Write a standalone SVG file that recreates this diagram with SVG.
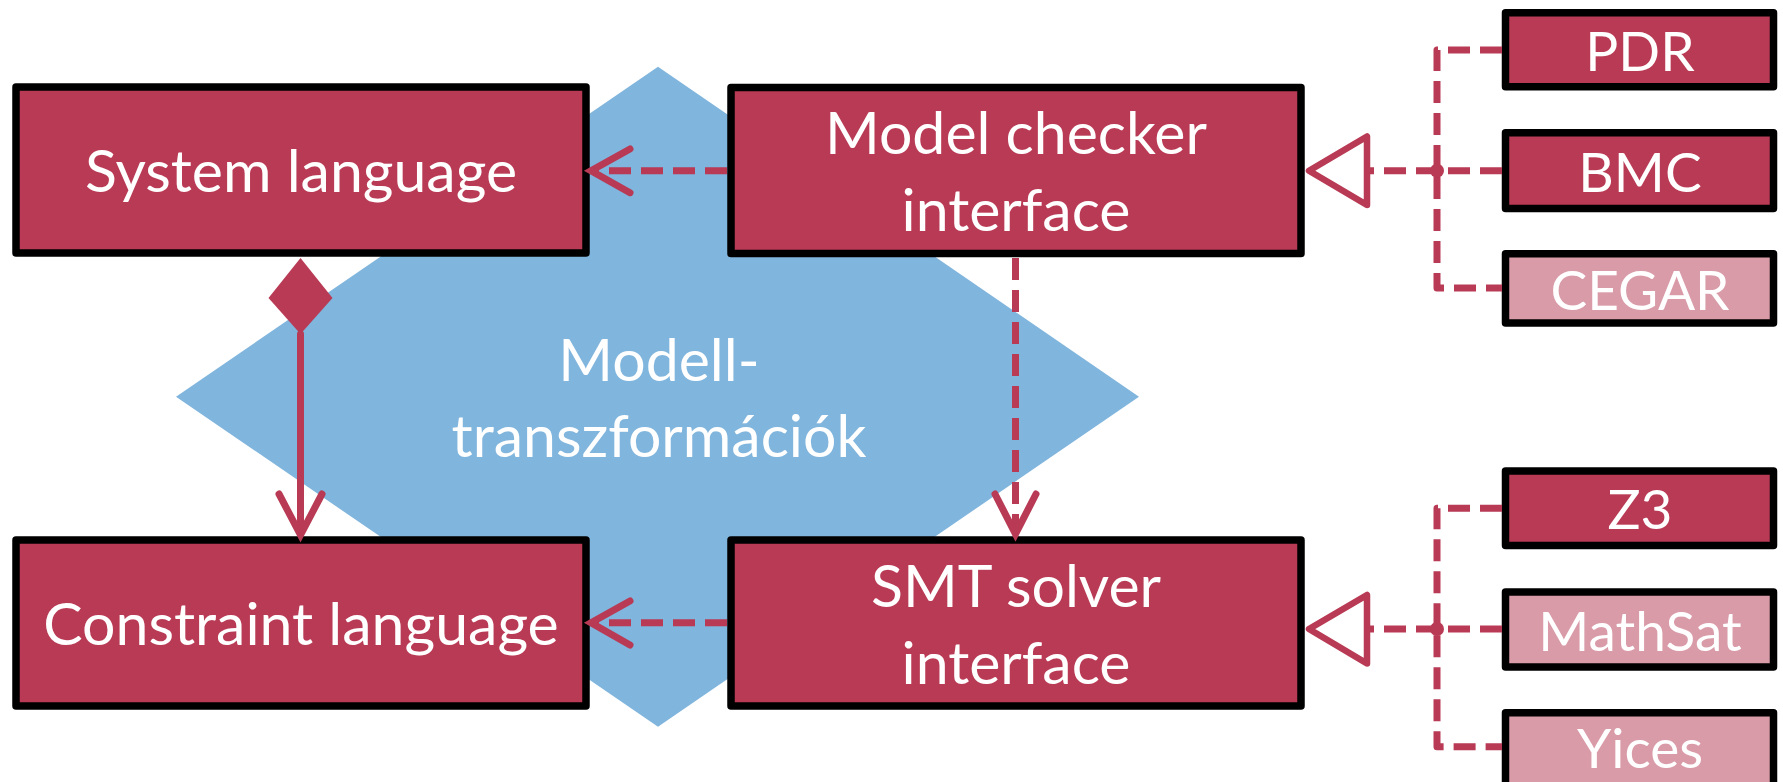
<svg xmlns="http://www.w3.org/2000/svg" width="1783" height="782" viewBox="0 0 1783 782">
  <style>
    .box { fill: #B93A54; stroke: #000000; stroke-width: 7.5; stroke-linejoin: round; }
    .box.light { fill: #D99BA8; }
    .label { fill: #FFFFFF; font-family: Lato, "Open Sans", sans-serif; text-anchor: middle; }
    .big { font-size: 59px; }
    .small { font-size: 55px; }
    .dash { fill: none; stroke: #B93A54; stroke-width: 7; stroke-dasharray: 22 10; stroke-linejoin: round; }
    .solid { fill: none; stroke: #B93A54; stroke-width: 7; stroke-linecap: round; stroke-linejoin: round; }
    .head { fill: none; stroke: #B93A54; stroke-width: 7; stroke-linecap: round; stroke-linejoin: miter; }
    .tri { fill: #FFFFFF; stroke: #B93A54; stroke-width: 6.5; stroke-linejoin: round; }
  </style>

  <!-- background shape with the transformation caption -->
  <g id="transformations">
    <polygon points="658,66.7 1139,396.7 658,726.7 176,396.7" fill="#80B5DD"/>
    <text class="label big" x="659" y="381">Modell-</text>
    <text class="label big" x="659" y="457">transzformációk</text>
  </g>

  <g id="system-language">
    <rect class="box" x="16" y="87" width="570" height="166"/>
    <text class="label big" x="301" y="192">System language</text>
  </g>

  <g id="model-checker-interface">
    <rect class="box" x="731" y="87.5" width="570" height="166"/>
    <text class="label big" x="1016" y="154">Model checker</text>
    <text class="label big" x="1016" y="231">interface</text>
  </g>

  <g id="constraint-language">
    <rect class="box" x="16" y="540" width="570" height="166"/>
    <text class="label big" x="301" y="645">Constraint language</text>
  </g>

  <g id="smt-solver-interface">
    <rect class="box" x="731" y="540" width="570" height="166"/>
    <text class="label big" x="1016" y="607">SMT solver</text>
    <text class="label big" x="1016" y="683.5">interface</text>
  </g>

  <g id="pdr">
    <rect class="box" x="1505.5" y="12.7" width="268" height="74"/>
    <text class="label small" x="1640" y="70.7">PDR</text>
  </g>
  <g id="bmc">
    <rect class="box" x="1505.5" y="132.7" width="268" height="75.8"/>
    <text class="label small" x="1640" y="192.3">BMC</text>
  </g>
  <g id="cegar">
    <rect class="box light" x="1505.5" y="253.7" width="268" height="69.3"/>
    <text class="label small" x="1640" y="310">CEGAR</text>
  </g>

  <g id="z3">
    <rect class="box" x="1505.5" y="471" width="268" height="74.5"/>
    <text class="label small" x="1640" y="529.3">Z3</text>
  </g>
  <g id="mathsat">
    <rect class="box light" x="1505.5" y="592" width="268" height="75"/>
    <text class="label small" x="1640" y="650.7">MathSat</text>
  </g>
  <g id="yices">
    <rect class="box light" x="1505.5" y="712.7" width="268" height="82"/>
    <text class="label small" x="1640" y="768.3">Yices</text>
  </g>

  <g id="connectors">
    <!-- model checker uses system language -->
    <path class="dash" d="M727,170.7 H596"/>
    <path class="head" d="M630,149 L591,170.7 L630,192.7"/>

    <!-- SMT solver uses constraint language -->
    <path class="dash" d="M727,622.7 H596"/>
    <path class="head" d="M630,601 L591,622.7 L630,645"/>

    <!-- model checker uses SMT solver -->
    <path class="dash" d="M1015.5,258 V530"/>
    <path class="head" d="M995,494 L1015.5,534 L1036,494"/>

    <!-- composition: system language owns constraint language -->
    <polygon points="300.5,258 332.5,298 300.5,334 268.5,298" fill="#B93A54"/>
    <path class="solid" d="M300.5,334 V532"/>
    <path class="head" d="M279,494 L300.5,535 L322,494"/>

    <!-- model checker algorithms -->
    <path class="dash" d="M1502,50 H1437 V288 H1502"/>
    <path class="dash" d="M1502,170.7 H1370"/>
    <circle cx="1437" cy="170.7" r="7" fill="#B93A54"/>
    <path class="tri" d="M1309,170.7 L1367,136.5 L1367,205 Z"/>

    <!-- SMT solver implementations -->
    <path class="dash" d="M1502,508.3 H1437 V746.7 H1502"/>
    <path class="dash" d="M1502,629 H1370"/>
    <circle cx="1437" cy="629" r="7" fill="#B93A54"/>
    <path class="tri" d="M1309,629 L1367,595 L1367,663.5 Z"/>
  </g>
</svg>
